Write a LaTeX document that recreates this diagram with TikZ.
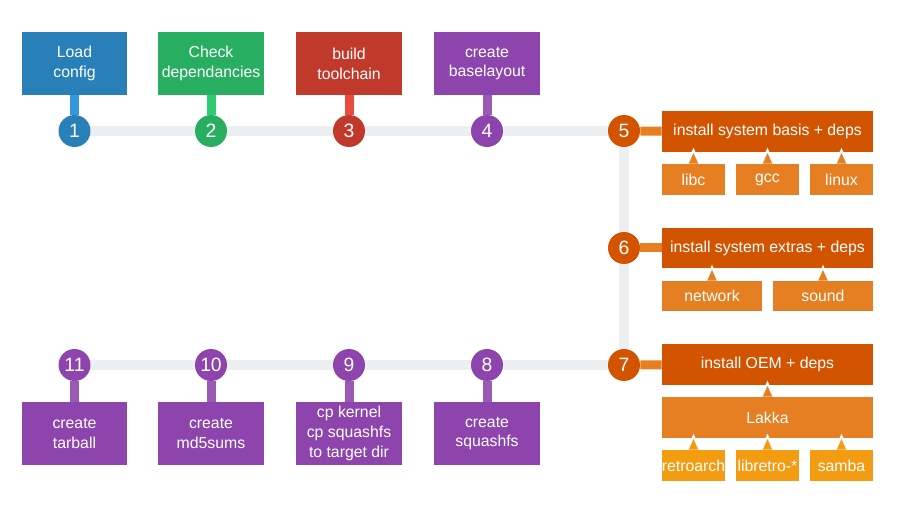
\documentclass[tikz,border=0pt]{standalone}
\usepackage{fontspec}
\setmainfont{Liberation Sans}
\usetikzlibrary{positioning,backgrounds}
\definecolor{blueA}{HTML}{2980B9}
\definecolor{blueB}{HTML}{3498DB}
\definecolor{greenA}{HTML}{27AE60}
\definecolor{greenB}{HTML}{2ECC71}
\definecolor{redA}{HTML}{C0392B}
\definecolor{redB}{HTML}{E74C3C}
\definecolor{purpleA}{HTML}{8E44AD}
\definecolor{purpleB}{HTML}{9B59B6}
\definecolor{orangeA}{HTML}{D35400}
\definecolor{orangeB}{HTML}{E67E22}
\definecolor{orangeC}{HTML}{F39C12}
\definecolor{railgray}{HTML}{ECEFF1}

\begin{document}
\begin{tikzpicture}[
    x=0.02cm, y=-0.02cm,
    txt/.style={text=white, inner sep=0pt, align=center, font=\fontsize{9}{11.3}\selectfont},
    stepbox/.style={txt, rectangle, minimum width=2.12cm, minimum height=1.26cm},
    num/.style={circle, minimum size=0.64cm, inner sep=0pt, text=white, font=\fontsize{11}{13}\selectfont},
    task/.style={txt, rectangle, minimum width=4.22cm, minimum height=0.82cm},
    dep/.style={txt, rectangle, minimum width=1.26cm, minimum height=0.62cm},
    wdep/.style={txt, rectangle, minimum width=2cm, minimum height=0.6cm},
    stem/.style={line width=0.18cm},
    rail/.style={draw=railgray, line width=0.2cm},
    notch/.style={draw=white, line width=0.04cm}
]
\useasboundingbox (0,0) rectangle (900,520);

\node[stepbox, fill=blueA] (load) at (74.5,63.5) {Load\\config};
\node[stepbox, fill=greenA] (check) at (211,63.5) {Check\\dependancies};
\node[stepbox, fill=redA] (build) at (349,63.5) {build\\toolchain};
\node[stepbox, fill=purpleA] (base) at (487,63.5) {create\\baselayout};

\node[num, fill=blueA] (n1) at (74.5,131) {1};
\node[num, fill=greenA] (n2) at (211,131) {2};
\node[num, fill=redA] (n3) at (349,131) {3};
\node[num, fill=purpleA] (n4) at (487,131) {4};
\node[num, fill=orangeA] (n5) at (624,131) {5};
\node[num, fill=orangeA] (n6) at (624,248) {6};
\node[num, fill=orangeA] (n7) at (624,365) {7};
\node[num, fill=purpleA] (n8) at (487,365) {8};
\node[num, fill=purpleA] (n9) at (349,365) {9};
\node[num, fill=purpleA] (n10) at (211,365) {10};
\node[num, fill=purpleA] (n11) at (74.5,365) {11};

\node[task, fill=orangeA] (basis) at (767.5,131.5) {install system basis + deps};
\node[dep, fill=orangeB] (libc) at (693.5,179.5) {libc};
\node[dep, fill=orangeB] (gcc) at (767.5,179.5) {gcc};
\node[dep, fill=orangeB] (linux) at (841.5,179.5) {linux};

\node[task, fill=orangeA] (extras) at (767.5,248) {install system extras + deps};
\node[wdep, fill=orangeB] (network) at (712,296) {network};
\node[wdep, fill=orangeB] (sound) at (823,296) {sound};

\node[task, fill=orangeA] (oem) at (767.5,364.5) {install OEM + deps};
\node[task, fill=orangeB] (lakka) at (767.5,417.5) {Lakka};
\node[dep, fill=orangeC] (retro) at (693.5,465.5) {retroarch};
\node[dep, fill=orangeC] (libretro) at (767.5,465.5) {libretro-*};
\node[dep, fill=orangeC] (samba) at (841.5,465.5) {samba};

\node[stepbox, fill=purpleA] (squash) at (487,433.5) {create\\squashfs};
\node[stepbox, fill=purpleA] (copy) at (349,433.5) {cp kernel\\cp squashfs\\to target dir};
\node[stepbox, fill=purpleA] (md5) at (211,433.5) {create\\md5sums};
\node[stepbox, fill=purpleA] (tarball) at (74.5,433.5) {create\\tarball};

\begin{scope}[on background layer]
\fill[white] (0,0) rectangle (900,520);
\draw[rail] (n1.center) -- (n5.center) -- (n7.center) -- (n11.center);
\draw[stem, blueB] (load) -- (n1);
\draw[stem, greenB] (check) -- (n2);
\draw[stem, redB] (build) -- (n3);
\draw[stem, purpleB] (base) -- (n4);
\draw[stem, orangeB] (n5) -- (basis);
\draw[stem, orangeB] (n6) -- (extras);
\draw[stem, orangeB] (n7) -- (oem);
\draw[stem, purpleB] (n8) -- (squash);
\draw[stem, purpleB] (n9) -- (copy);
\draw[stem, purpleB] (n10) -- (md5);
\draw[stem, purpleB] (n11) -- (tarball);
\end{scope}

\foreach \n/\c in {libc/orangeB, gcc/orangeB, linux/orangeB, network/orangeB, sound/orangeB, lakka/orangeB, retro/orangeC, libretro/orangeC, samba/orangeC}
  \filldraw[notch, fill=\c] ([xshift=-0.12cm]\n.north) -- ([yshift=0.27cm]\n.north) -- ([xshift=0.12cm]\n.north);
\end{tikzpicture}
\end{document}
